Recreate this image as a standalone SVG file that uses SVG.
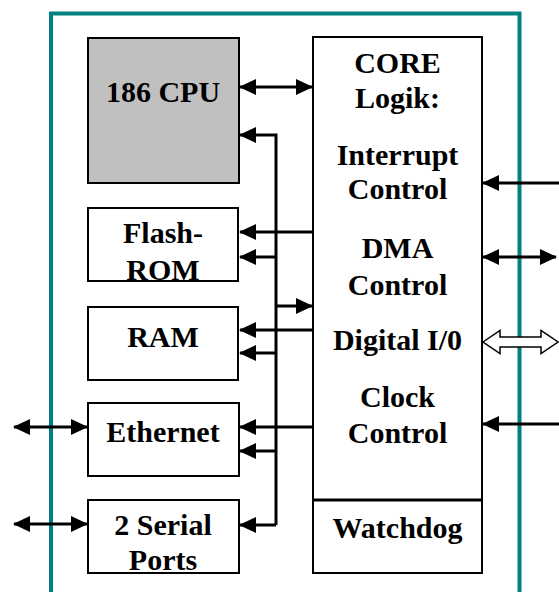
<svg xmlns="http://www.w3.org/2000/svg" width="559" height="592" viewBox="0 0 559 592">
<style>
.box{fill:#fff;stroke:#000;stroke-width:2}
.cpu{fill:#c0c0c0;stroke:#000;stroke-width:2}
.t{font-family:"Liberation Serif","Times New Roman",serif;font-weight:bold;font-size:30px;fill:#000;text-anchor:middle}
.w{fill:none;stroke:#000;stroke-width:3}
.a{fill:none;stroke:#000;stroke-width:3;marker-end:url(#ah)}
.d{fill:none;stroke:#000;stroke-width:3;marker-end:url(#ah);marker-start:url(#ah)}
</style>
<defs>
<marker id="ah" markerUnits="userSpaceOnUse" markerWidth="18" markerHeight="16" refX="16" refY="8" orient="auto-start-reverse">
<path d="M0,0 L17,8 L0,16 Z" fill="#000"/>
</marker>
</defs>
<rect width="559" height="592" fill="#fff"/>
<path id="frame" d="M51,592 V13.5 H519.5 V592" fill="none" stroke="#008080" stroke-width="4"/>
<g id="cpu"><rect class="cpu" x="88" y="38" width="151" height="145"/><text class="t" x="163" y="102">186 CPU</text></g>
<g id="flash"><rect class="box" x="88" y="208" width="150" height="73"/><text class="t" x="163" y="243">Flash-</text><text class="t" x="163" y="280">ROM</text><rect x="88" y="208" width="150" height="73" fill="none" stroke="#000" stroke-width="2"/></g>
<g id="ram"><rect class="box" x="88" y="307" width="150" height="73"/><text class="t" x="163" y="347">RAM</text></g>
<g id="ethernet"><rect class="box" x="88" y="403" width="151" height="73"/><text class="t" x="163" y="442">Ethernet</text></g>
<g id="serial"><rect class="box" x="88" y="500" width="151" height="73"/><text class="t" x="163" y="535">2 Serial</text><text class="t" x="163" y="570">Ports</text><rect x="88" y="500" width="151" height="73" fill="none" stroke="#000" stroke-width="2"/></g>
<g id="core"><rect class="box" x="313" y="37" width="169" height="536"/><line x1="313" y1="500" x2="482" y2="500" stroke="#000" stroke-width="3"/>
<text class="t" x="397.5" y="73">CORE</text><text class="t" x="397.5" y="108">Logik:</text>
<text class="t" x="397.5" y="165">Interrupt</text><text class="t" x="397.5" y="199">Control</text>
<text class="t" x="397.5" y="258">DMA</text><text class="t" x="397.5" y="295">Control</text>
<text class="t" x="397.5" y="350">Digital I/0</text>
<text class="t" x="397.5" y="407">Clock</text><text class="t" x="397.5" y="443">Control</text>
<text class="t" x="397.5" y="538">Watchdog</text></g>
<g id="connectors">
<path class="d" d="M240,87 H312"/>
<path class="a" d="M276,525 V135 H240"/>
<path class="a" d="M313,232 H240"/>
<path class="a" d="M276,257 H240"/>
<path class="a" d="M276,306 H312"/>
<path class="a" d="M313,330 H240"/>
<path class="a" d="M276,353 H240"/>
<path class="a" d="M313,427 H240"/>
<path class="a" d="M276,451 H240"/>
<path class="a" d="M276,525 H240"/>
<path class="d" d="M14,427 H87"/>
<path class="d" d="M14,524 H87"/>
<path class="a" d="M559,183 H483"/>
<path class="d" d="M483,257 H556"/>
<path class="a" d="M559,424 H483"/>
<path d="M483,342 L500,330.5 V337 H541 V330.5 L558,342 L541,353.5 V347 H500 V353.5 Z" fill="#fff" stroke="#000" stroke-width="1.5"/>
</g>
</svg>
